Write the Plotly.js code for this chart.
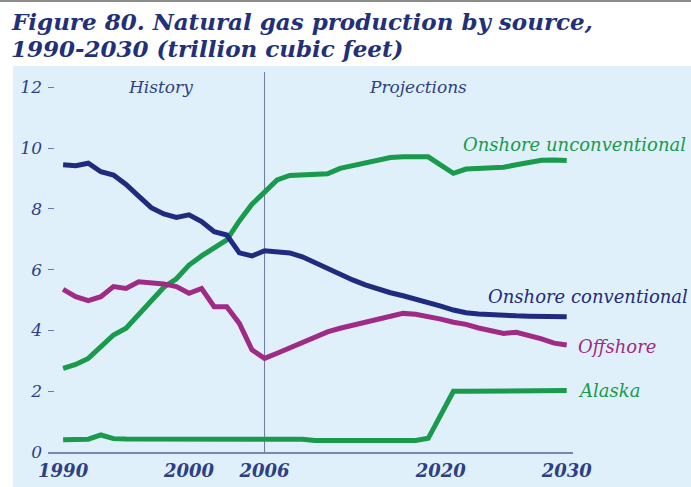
<!DOCTYPE html>
<html>
<head>
<meta charset="utf-8">
<script src="https://cdn.plot.ly/plotly-3.0.1.min.js"></script>
<style>html,body{margin:0;padding:0;background:#fff;}#chart{width:691px;height:487px;}</style>
</head>
<body>
<div id="chart"></div>
<script>
// ---- data ----
const histYears = [1990,1991,1992,1993,1994,1995,1996,1997,1998,1999,2000,2001,2002,2003,2004,2005,2006];
const projYears = [2006,2007,2008,2009,2010,2011,2012,2013,2014,2015,2016,2017,2018,2019,2020,2021,2022,2023,2024,2025,2026,2027,2028,2029,2030];

const onshoreConvHist = [9.45,9.42,9.50,9.22,9.11,8.80,8.42,8.04,7.83,7.72,7.80,7.58,7.25,7.14,6.55,6.45,6.62];
const onshoreConvProj = [6.62,6.60,6.55,6.42,6.22,6.02,5.84,5.66,5.50,5.36,5.24,5.14,5.04,4.94,4.80,4.67,4.58,4.54,4.51,4.49,4.48,4.47,4.47,4.46,4.45];

const onshoreUnconvHist = [2.75,2.88,3.08,3.46,3.85,4.07,4.51,5.00,5.42,5.70,6.15,6.45,6.70,6.98,7.60,8.15,8.55];
const onshoreUnconvProj = [8.55,8.95,9.10,9.13,9.13,9.15,9.33,9.41,9.50,9.58,9.69,9.71,9.73,9.71,9.44,9.17,9.31,9.34,9.36,9.37,9.45,9.53,9.60,9.61,9.59];

const offshoreHist = [5.35,5.11,4.98,5.11,5.44,5.38,5.60,5.58,5.53,5.44,5.22,5.38,4.78,4.78,4.23,3.36,3.08];
const offshoreProj = [3.08,3.25,3.43,3.60,3.80,3.95,4.07,4.17,4.24,4.36,4.48,4.56,4.53,4.47,4.37,4.27,4.20,4.08,3.97,3.90,3.94,3.85,3.72,3.58,3.52];

const alaskaHist = [0.40,0.42,0.42,0.56,0.44,0.43,0.43,0.43,0.43,0.43,0.43,0.44,0.44,0.44,0.46,0.45,0.45];
const alaskaProj = [0.45,0.43,0.42,0.42,0.38,0.38,0.38,0.38,0.38,0.38,0.38,0.38,0.38,0.45,1.25,2.00,2.00,2.00,2.00,2.00,2.01,2.01,2.01,2.02,2.02];

const xTickVals = [1990,2000,2006,2020,2030];
const xTickText = ['1990','2000','2006','2020','2030'];
const yTickVals = [0,2,4,6,8,10,12];
const yTickText = ['0','2','4','6','8','10','12'];

const seriesNames = ['Onshore unconventional','Onshore conventional','Offshore','Alaska'];
const titleLines = ['Figure 80. Natural gas production by source,', '1990-2030 (trillion cubic feet)'];
const periodLabels = ['History', 'Projections'];
const dividerYear = 2006;

// ---- styles ----
const NAVY = '#1f2b7e', GREEN = '#1a9a4c', MAG = '#a02b84', TXT = '#2e3f86';
const SERIF = '"DejaVu Serif", "Liberation Serif", serif';

function line(x, y, color, name) {
  return {x: x, y: y, type: 'scatter', mode: 'lines', name: name,
          line: {color: color, width: 5, shape: 'linear'}, hoverinfo: 'skip', showlegend: false};
}
function joined(a, b) { return a.concat(b.slice(1)); }
const allYears = joined(histYears, projYears);

const data = [
  line(allYears, joined(onshoreUnconvHist, onshoreUnconvProj), GREEN, seriesNames[0]),
  line(allYears, joined(onshoreConvHist, onshoreConvProj), NAVY, seriesNames[1]),
  line(allYears, joined(offshoreHist, offshoreProj), MAG, seriesNames[2]),
  line(allYears, joined(alaskaHist, alaskaProj), GREEN, seriesNames[3])
];

const L = 48, R = 118, T = 69, B = 35;
const PW = 691 - L - R, PH = 487 - T - B;
const px2paperX = p => (p - L) / PW;
const px2paperY = p => (487 - B - p) / PH;

function label(text, x, xref, y, color, anchor, size) {
  return {text: text, xref: xref, yref: 'paper', x: x, y: px2paperY(y), xanchor: anchor, yanchor: 'middle',
          showarrow: false, font: {family: SERIF, size: size || 18, color: color, style: 'italic'}};
}
function titleLine(text, y) {
  return {text: text, xref: 'paper', yref: 'paper', x: px2paperX(9), y: px2paperY(y), xanchor: 'left', yanchor: 'middle',
          showarrow: false, font: {family: SERIF, size: 23, color: '#22307a', weight: 'bold', style: 'italic'}};
}

const layout = {
  width: 691, height: 487,
  margin: {l: L, r: R, t: T, b: B, pad: 0},
  paper_bgcolor: '#ffffff', plot_bgcolor: 'rgba(0,0,0,0)',
  xaxis: {range: [1988.8, 2030.5], tickvals: xTickVals, ticktext: xTickText, showgrid: false, zeroline: false,
          showline: true, linecolor: '#7b86ae', linewidth: 1.5, ticks: '', ticklabelstandoff: 2,
          tickfont: {family: SERIF, size: 18, color: TXT, weight: 'bold', style: 'italic'}, fixedrange: true},
  yaxis: {range: [0, 12.6], tickvals: yTickVals, ticktext: yTickText, showgrid: false, zeroline: false,
          showline: false, ticks: 'inside', ticklen: 6, tickwidth: 1, tickcolor: '#6d7aa8', ticklabelstandoff: 5,
          tickfont: {family: SERIF, size: 17, color: TXT, style: 'italic'}, fixedrange: true},
  shapes: [
    {type: 'rect', xref: 'paper', yref: 'paper', x0: px2paperX(13), x1: px2paperX(700), y0: px2paperY(495), y1: px2paperY(66),
     fillcolor: '#dff0fa', line: {width: 0}, layer: 'below'},
    {type: 'rect', xref: 'paper', yref: 'paper', x0: px2paperX(-5), x1: px2paperX(700), y0: px2paperY(2), y1: px2paperY(-5),
     fillcolor: '#8c8c8c', line: {width: 0}, layer: 'below'},
    {type: 'line', xref: 'x', yref: 'paper', x0: dividerYear, x1: dividerYear, y0: 0, y1: px2paperY(72),
     line: {color: '#6b789f', width: 1}, layer: 'below'}
  ],
  annotations: [
    titleLine(titleLines[0], 21),
    titleLine(titleLines[1], 48),
    label(periodLabels[0], 1997.7, 'x', 87, TXT, 'center', 17),
    label(periodLabels[1], 2018.2, 'x', 87, TXT, 'center', 17),
    label(seriesNames[0], px2paperX(461), 'paper', 144, GREEN, 'left'),
    label(seriesNames[1], px2paperX(486), 'paper', 296, NAVY, 'left'),
    label(seriesNames[2], px2paperX(576), 'paper', 346, MAG, 'left'),
    label(seriesNames[3], px2paperX(576), 'paper', 390, GREEN, 'left')
  ],
  showlegend: false
};

Plotly.newPlot('chart', data, layout, {displayModeBar: false, staticPlot: true});
</script>
</body>
</html>
